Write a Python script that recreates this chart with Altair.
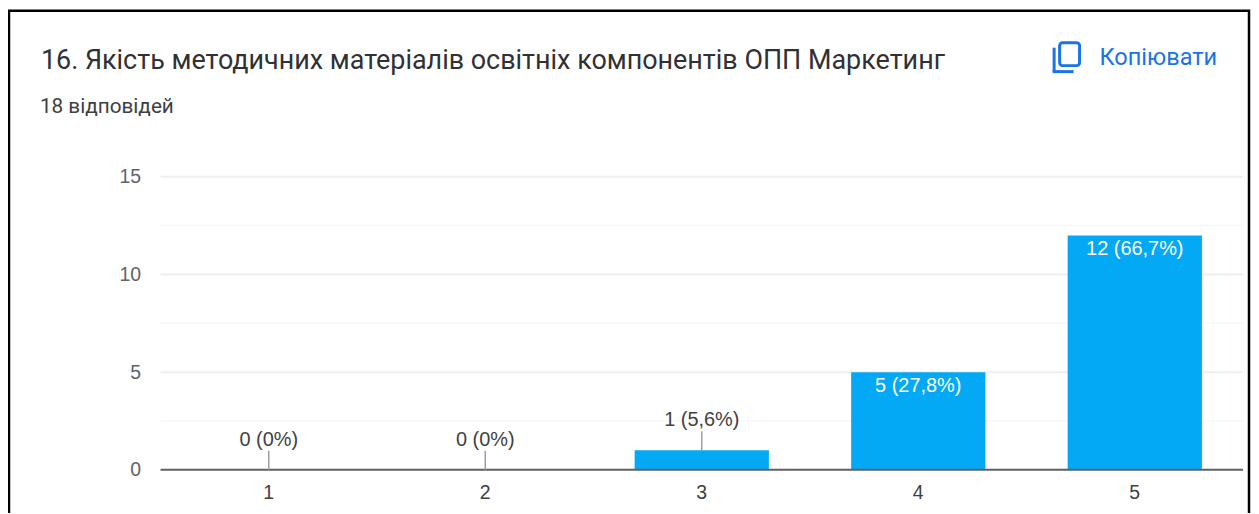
import altair as alt
import pandas as pd

categories = ["1", "2", "3", "4", "5"]
counts = [0, 0, 1, 5, 12]
labels = ["0 (0%)", "0 (0%)", "1 (5,6%)", "5 (27,8%)", "12 (66,7%)"]
y_ticks = [0, 5, 10, 15]
minor_grid = [2.5, 7.5, 12.5]
title_text = "16. Якість методичних матеріалів освітніх компонентів ОПП Маркетинг"
subtitle_text = "18 відповідей"
copy_text = "Копіювати"

df = pd.DataFrame({"cat": categories, "n": counts, "label": labels})
df["lead"] = df["n"] + 0.97
x_scale = alt.Scale(paddingInner=0.38, paddingOuter=0.19)
x_axis = alt.Axis(labelAngle=0, ticks=False, domain=False, grid=False, labelFontSize=19.5,
                  labelFont="Liberation Sans", labelColor="#3c4043", labelPadding=14)
y_scale = alt.Scale(domain=[0, 15], nice=False)
y_axis = alt.Axis(values=y_ticks, ticks=False, domain=False, grid=False, labelFontSize=19.5,
                  labelFont="Liberation Sans", labelColor="#5f6368", labelPadding=20)
x_enc = alt.X("cat:N", sort=categories, scale=x_scale, title=None, axis=x_axis)


def y_of(field):
    return alt.Y(field, scale=y_scale, title=None, axis=y_axis)


minor = alt.Chart(pd.DataFrame({"v": minor_grid})).mark_rule(color="#f7f7f7", strokeWidth=1.5).encode(y=y_of("v:Q"))
major = alt.Chart(pd.DataFrame({"v": y_ticks})).mark_rule(color="#eeeeee", strokeWidth=2).encode(y=y_of("v:Q"))
bars = alt.Chart(df).mark_bar(color="#03a9f4").encode(x=x_enc, y=y_of("n:Q"))
base = alt.Chart(pd.DataFrame({"v": [0]})).mark_rule(color="#5f6368", strokeWidth=2).encode(y=y_of("v:Q"))
small = df[df["n"] < 2]
big = df[df["n"] >= 2]
leaders = alt.Chart(small).mark_rule(color="#9e9e9e", strokeWidth=1.5).encode(x=x_enc, y=y_of("n:Q"), y2="lead:Q")
outside = alt.Chart(small).mark_text(font="Liberation Sans", fontSize=20, color="#424242", dy=-11).encode(
    x=x_enc, y=y_of("lead:Q"), text="label:N")
inside = alt.Chart(big).mark_text(font="Liberation Sans", fontSize=20, color="#ffffff", dy=14).encode(
    x=x_enc, y=y_of("n:Q"), text="label:N")

one = pd.DataFrame({"k": [0]})
frame = alt.Chart(one).mark_rect(fill="transparent", stroke="#000000", strokeWidth=2.5).encode(
    x=alt.value(-152), x2=alt.value(1092), y=alt.value(-166.5), y2=alt.value(420))
title = alt.Chart(one).mark_text(text=title_text, font="Roboto", fontSize=27, color="#303134", align="left",
                                 baseline="middle").encode(x=alt.value(-120), y=alt.value(-116.5))
subtitle = alt.Chart(one).mark_text(text=subtitle_text, font="Roboto", fontSize=20.8, color="#3c4043", align="left",
                                    baseline="middle").encode(x=alt.value(-121), y=alt.value(-69.5))
copy = alt.Chart(one).mark_text(text=copy_text, font="Roboto", fontSize=23.6, color="#1a73e8", align="left",
                                baseline="middle").encode(x=alt.value(942), y=alt.value(-119.5))
icon_box = alt.Chart(one).mark_rect(fill="transparent", stroke="#1a73e8", strokeWidth=3, cornerRadius=3).encode(
    x=alt.value(902), x2=alt.value(922), y=alt.value(-134.5), y2=alt.value(-111.5))
icon_v = alt.Chart(one).mark_rule(color="#1a73e8", strokeWidth=3).encode(
    x=alt.value(896.5), y=alt.value(-129.5), y2=alt.value(-105.5))
icon_h = alt.Chart(one).mark_rule(color="#1a73e8", strokeWidth=3).encode(
    x=alt.value(895), x2=alt.value(916), y=alt.value(-105.5))

chart = alt.layer(minor, major, bars, base, leaders, outside, inside, frame, title, subtitle, copy, icon_box, icon_v, icon_h).properties(
    width=1086, height=294,
    autosize=alt.AutoSizeParams(type="none"),
    padding={"left": 153, "top": 168.5, "right": 8, "bottom": 42},
    background="#ffffff",
).configure_view(stroke=None)
chart.save("out.html", embed_options={"renderer": "svg", "actions": False})
